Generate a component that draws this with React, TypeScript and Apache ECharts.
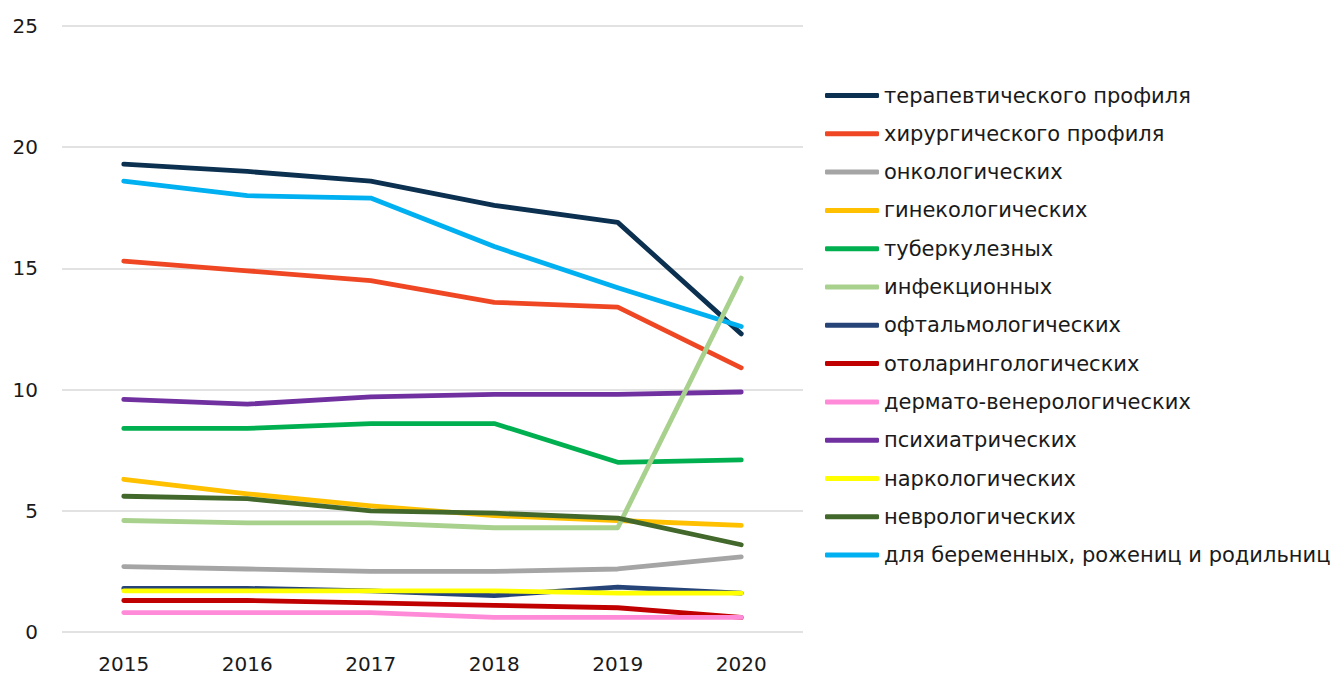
import React, { useEffect, useRef } from "react";
import * as echarts from "echarts";

const years = ["2015", "2016", "2017", "2018", "2019", "2020"];

const seriesNames = [
  "терапевтического профиля",
  "хирургического профиля",
  "онкологических",
  "гинекологических",
  "туберкулезных",
  "инфекционных",
  "офтальмологических",
  "отоларингологических",
  "дермато-венерологических",
  "психиатрических",
  "наркологических",
  "неврологических",
  "для беременных, рожениц и родильниц",
];

const seriesColors = [
  "#0b3050",
  "#ef4723",
  "#a5a5a5",
  "#ffc000",
  "#00b050",
  "#a9d18e",
  "#264478",
  "#c00000",
  "#ff8ad8",
  "#7030a0",
  "#ffff00",
  "#43682b",
  "#00b0f0",
];

const therapeutic = [19.3, 19.0, 18.6, 17.6, 16.9, 12.3];
const surgical = [15.3, 14.9, 14.5, 13.6, 13.4, 10.9];
const oncological = [2.7, 2.6, 2.5, 2.5, 2.6, 3.1];
const gynecological = [6.3, 5.7, 5.2, 4.8, 4.6, 4.4];
const tuberculosis = [8.4, 8.4, 8.6, 8.6, 7.0, 7.1];
const infectious = [4.6, 4.5, 4.5, 4.3, 4.3, 14.6];
const ophthalmological = [1.8, 1.8, 1.7, 1.5, 1.85, 1.6];
const otolaryngological = [1.3, 1.3, 1.2, 1.1, 1.0, 0.6];
const dermatovenereological = [0.8, 0.8, 0.8, 0.6, 0.6, 0.6];
const psychiatric = [9.6, 9.4, 9.7, 9.8, 9.8, 9.9];
const narcological = [1.7, 1.7, 1.7, 1.7, 1.6, 1.6];
const neurological = [5.6, 5.5, 5.0, 4.9, 4.7, 3.6];
const maternity = [18.6, 18.0, 17.9, 15.9, 14.2, 12.6];

const seriesData = [
  therapeutic,
  surgical,
  oncological,
  gynecological,
  tuberculosis,
  infectious,
  ophthalmological,
  otolaryngological,
  dermatovenereological,
  psychiatric,
  narcological,
  neurological,
  maternity,
];

// drawing order: later entries on top
const drawOrder = [0, 12, 1, 9, 4, 3, 5, 11, 2, 6, 10, 7, 8];

export default function App() {
  const ref = useRef<HTMLDivElement>(null);
  useEffect(() => {
    document.body.style.margin = "0";
    if (!ref.current) return;
    const chart = echarts.init(ref.current, null, { renderer: "svg" });
    const font = "'DejaVu Sans', 'Noto Sans', sans-serif";
    chart.setOption({
      animation: false,
      textStyle: { fontFamily: font },
      grid: { left: 62, right: 535, top: 26, bottom: 43, containLabel: false },
      legend: {
        orient: "vertical",
        left: 820,
        top: 80,
        data: seriesNames,
        icon: "roundRect",
        itemWidth: 54,
        itemHeight: 5,
        itemGap: 17.3,
        textStyle: { fontSize: 21, color: "#1a1a1a", fontFamily: font, lineHeight: 21 },
      },
      xAxis: {
        type: "category",
        data: years,
        boundaryGap: true,
        axisLine: { show: false },
        axisTick: { show: false },
        axisLabel: { fontSize: 20, color: "#1a1a1a", margin: 22 },
      },
      yAxis: {
        type: "value",
        min: 0,
        max: 25,
        interval: 5,
        axisLine: { show: false },
        axisTick: { show: false },
        axisLabel: { fontSize: 20, color: "#1a1a1a", margin: 24 },
        splitLine: { lineStyle: { color: "#d9d9d9", width: 1.5 } },
      },
      series: drawOrder.map((i, k) => ({
        name: seriesNames[i],
        type: "line",
        data: seriesData[i],
        symbol: "none",
        z: 2 + k,
        itemStyle: { color: seriesColors[i] },
        lineStyle: { color: seriesColors[i], width: 4.8, cap: "round", join: "round" },
      })),
    });
    return () => chart.dispose();
  }, []);
  return <div ref={ref} style={{ width: 1338, height: 675 }} />;
}
